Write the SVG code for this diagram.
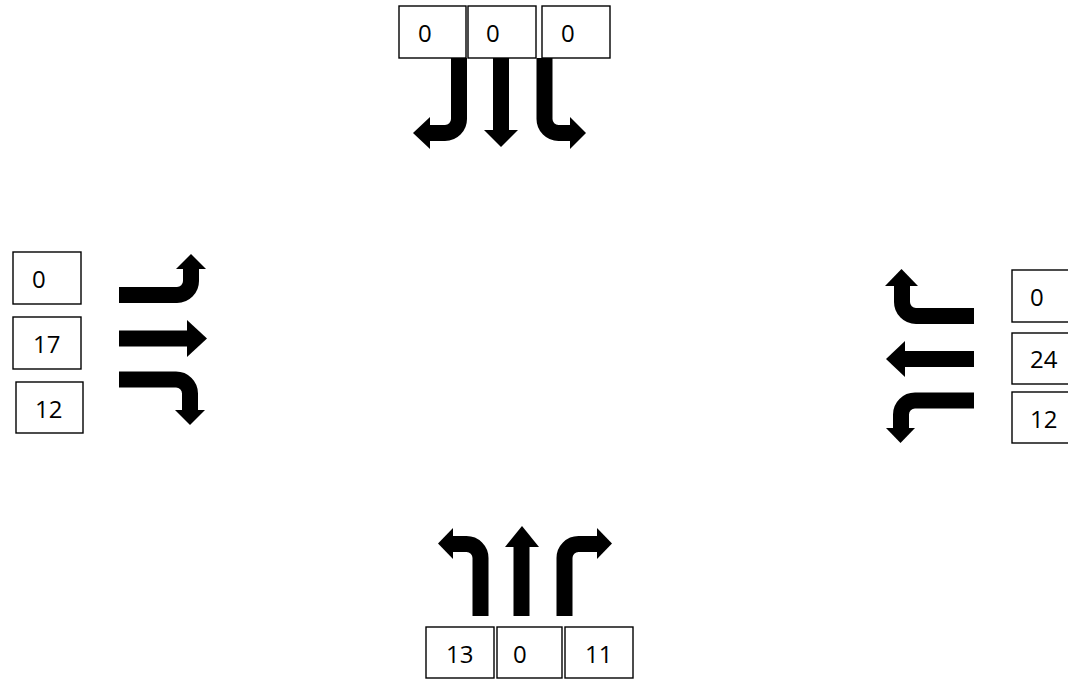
<svg xmlns="http://www.w3.org/2000/svg" width="1068" height="680" viewBox="0 0 1068 680">
<style>
.box rect{fill:#fff;stroke:#000;stroke-width:1.4}
.box text{font-family:"Open Sans","Liberation Sans",Arial,sans-serif;font-size:24px;fill:#000}
.shaft{fill:none;stroke:#000;stroke-width:16;stroke-linejoin:round}
.head{fill:#000}
</style>
<rect width="1068" height="680" fill="#fff"/>
<g id="north">
<g id="n1" class="box"><rect x="399" y="6" width="67" height="52"/><text x="418" y="42">0</text></g>
<g id="n2" class="box"><rect x="468" y="6" width="68" height="52"/><text x="486" y="42">0</text></g>
<g id="n3" class="box"><rect x="542" y="6" width="68" height="52"/><text x="561" y="42">0</text></g>
</g>
<g id="west">
<g id="w1" class="box"><rect x="13" y="252" width="68" height="52"/><text x="32" y="288">0</text></g>
<g id="w2" class="box"><rect x="13" y="317" width="68" height="52"/><text x="33" y="353">17</text></g>
<g id="w3" class="box"><rect x="16" y="382" width="67" height="51"/><text x="35" y="418">12</text></g>
</g>
<g id="east">
<g id="e1" class="box"><rect x="1012" y="270" width="70" height="52"/><text x="1030" y="306">0</text></g>
<g id="e2" class="box"><rect x="1012" y="333" width="70" height="51"/><text x="1030" y="368">24</text></g>
<g id="e3" class="box"><rect x="1012" y="392" width="70" height="51"/><text x="1030" y="428">12</text></g>
</g>
<g id="south">
<g id="s1" class="box"><rect x="426" y="627" width="68" height="51"/><text x="446" y="663">13</text></g>
<g id="s2" class="box"><rect x="497" y="627" width="65" height="51"/><text x="513" y="663">0</text></g>
<g id="s3" class="box"><rect x="565" y="627" width="68" height="51"/><text x="585" y="663">11</text></g>
</g>
<g id="connectors">
<!-- north -->
<path class="shaft" d="M459,58 V119 A14,14 0 0 1 445,133 H429"/>
<polygon class="head" points="430,117 430,149 413,133"/>
<path class="shaft" d="M501,58 V131"/>
<polygon class="head" points="484,130 518,130 501,147"/>
<path class="shaft" d="M544.5,58 V119 A14,14 0 0 0 558.5,133 H571"/>
<polygon class="head" points="570,117 570,149 586,133"/>
<!-- west -->
<path class="shaft" d="M119,295 H177 A14,14 0 0 0 191,281 V268"/>
<polygon class="head" points="176,269 206,269 191,254"/>
<path class="shaft" d="M119,338.5 H188"/>
<polygon class="head" points="187,320 187,357 207,338.5"/>
<path class="shaft" d="M119,379.5 H176 A14,14 0 0 1 190,393.5 V411"/>
<polygon class="head" points="175,410 205,410 190,425"/>
<!-- east -->
<path class="shaft" d="M974,316 H916 A14,14 0 0 1 902,302 V285"/>
<polygon class="head" points="885,286 918,286 901.5,269"/>
<path class="shaft" d="M974,359 H904"/>
<polygon class="head" points="905,341 905,377 886,359"/>
<path class="shaft" d="M974,400.5 H915 A14,14 0 0 0 901,414.5 V429"/>
<polygon class="head" points="886,428 915,428 900.5,443"/>
<!-- south -->
<path class="shaft" d="M480.5,616 V558 A14,14 0 0 0 466.5,544 H452"/>
<polygon class="head" points="453,528 453,559 438,543.5"/>
<path class="shaft" d="M521.5,616 V546"/>
<polygon class="head" points="505,547 539,547 522,526"/>
<path class="shaft" d="M564.5,616 V558 A14,14 0 0 1 578.5,544 H598"/>
<polygon class="head" points="597,528 597,559 612,543.5"/>
</g>
</svg>
